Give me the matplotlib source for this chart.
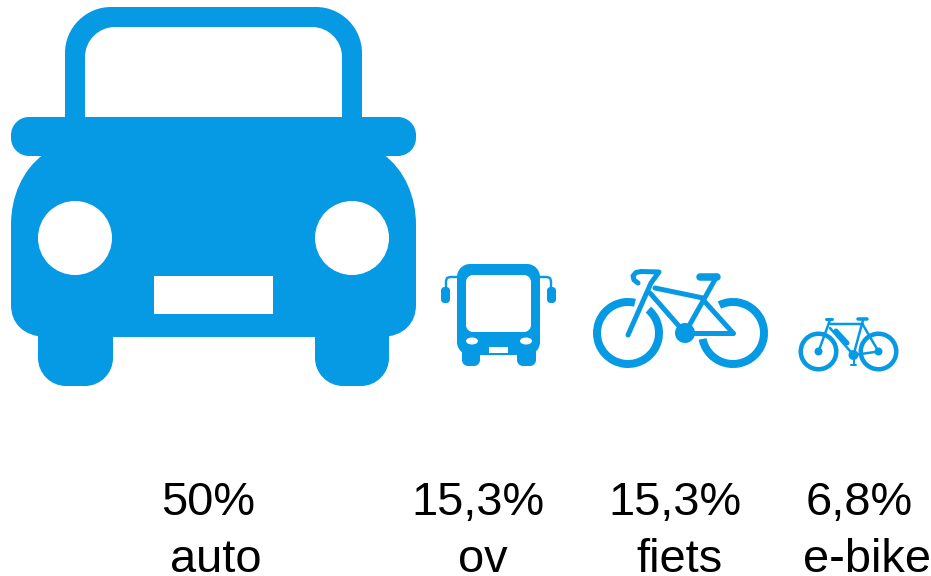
"""
plot.py -- modal split icons (auto, ov, fiets, e-bike)
"""
import matplotlib
matplotlib.use("Agg")
import matplotlib.pyplot as plt
from matplotlib.patches import Circle, Ellipse, PathPatch, Rectangle, Wedge
from matplotlib.path import Path

modes = ["auto", "ov", "fiets", "e-bike"]
shares = [50, 15.3, 15.3, 6.8]

BLUE = "#0699e4"
PX = 72 / 100  # one pixel in points at dpi 100
K = 0.45  # bezier handle for a round corner

share_x = [161, 411, 608, 806]
mode_x = [170, 458, 636, 803]

plt.rcParams["font.family"] = ["Liberation Sans", "DejaVu Sans"]

fig = plt.figure(figsize=(9.31, 5.76), dpi=100)
ax = fig.add_axes([0, 0, 1, 1])
ax.set_xlim(0, 931)
ax.set_ylim(576, 0)
ax.axis("off")


def rbox(x0, y0, x1, y1, r, color=BLUE, z=2):
    c = r * K
    verts = [(x0 + r, y0), (x1 - r, y0),
             (x1 - c, y0), (x1, y0 + c), (x1, y0 + r), (x1, y1 - r),
             (x1, y1 - c), (x1 - c, y1), (x1 - r, y1), (x0 + r, y1),
             (x0 + c, y1), (x0, y1 - c), (x0, y1 - r), (x0, y0 + r),
             (x0, y0 + c), (x0 + c, y0), (x0 + r, y0), (x0 + r, y0)]
    codes = [Path.MOVETO, Path.LINETO]
    for _ in range(3):
        codes += [Path.CURVE4] * 3 + [Path.LINETO]
    codes += [Path.CURVE4] * 3 + [Path.CLOSEPOLY]
    ax.add_patch(PathPatch(Path(verts, codes), fc=color, ec="none", zorder=z))


def stroke(pts, width, color=BLUE, z=3):
    xs, ys = zip(*pts)
    ax.plot(xs, ys, color=color, lw=width * PX, solid_capstyle="round",
            solid_joinstyle="round", zorder=z)


def ring(cx, cy, r, width, gap=None):
    # y axis is inverted, so angles run clockwise on screen
    if gap is None:
        ax.add_patch(Wedge((cx, cy), r, 0, 360, width=width, fc=BLUE, ec="none", zorder=2))
    else:
        ax.add_patch(Wedge((cx, cy), r, -gap[0], -gap[1] + 360, width=width,
                           fc=BLUE, ec="none", zorder=2))


def draw_car():
    rbox(65, 7, 362, 200, 46)
    rbox(85, 27, 342, 170, 30, "white", 3)
    rbox(11, 117, 416, 156, 18, BLUE, 4)
    verts = [(44, 154), (22, 170), (11, 197), (11, 225), (11, 305), (11, 322), (22, 337), (48, 337),
             (380, 337), (405, 337), (416, 322), (416, 305), (416, 225), (416, 197), (405, 170), (383, 154),
             (44, 154)]
    codes = [Path.MOVETO, Path.CURVE4, Path.CURVE4, Path.CURVE4, Path.LINETO,
             Path.CURVE4, Path.CURVE4, Path.CURVE4, Path.LINETO,
             Path.CURVE4, Path.CURVE4, Path.CURVE4, Path.LINETO,
             Path.CURVE4, Path.CURVE4, Path.CURVE4, Path.CLOSEPOLY]
    ax.add_patch(PathPatch(Path(verts, codes), fc=BLUE, ec="none", zorder=4))
    # window sill, slightly bowed at the corners
    sill = [(85, 136), (110, 134), (317, 134), (342, 136), (342, 165), (85, 165), (85, 136)]
    sill_codes = [Path.MOVETO, Path.LINETO, Path.LINETO, Path.LINETO, Path.LINETO, Path.LINETO, Path.CLOSEPOLY]
    ax.add_patch(PathPatch(Path(sill, sill_codes), fc=BLUE, ec="none", zorder=4))
    rbox(38, 300, 113, 386, 28)
    rbox(315, 300, 389, 386, 28)
    ax.add_patch(Circle((75, 238), 37, fc="white", ec="none", zorder=5))
    ax.add_patch(Circle((352, 238), 37, fc="white", ec="none", zorder=5))
    ax.add_patch(Rectangle((154, 276), 119, 38, fc="white", ec="none", zorder=5))


def draw_bus():
    rbox(457, 264, 540, 355, 13)
    rbox(466, 275, 531, 332, 7, "white", 3)
    ax.add_patch(Ellipse((472, 341), 12, 7, fc="white", ec="none", zorder=3))
    ax.add_patch(Ellipse((526, 341), 12, 7, fc="white", ec="none", zorder=3))
    ax.add_patch(Rectangle((489, 347), 19, 6, fc="white", ec="none", zorder=3))
    rbox(462, 345, 480, 366, 6)
    rbox(517, 345, 536, 366, 6)
    rbox(441, 287, 450, 303, 3.5)
    rbox(547, 287, 556, 303, 3.5)
    stroke([(446, 288), (446, 281), (447, 278), (450, 277), (458, 277)], 2.4)
    stroke([(551, 288), (551, 281), (550, 278), (547, 277), (539, 277)], 2.4)


def draw_bike():
    ring(628, 333, 35, 8, gap=(49, 77))
    ring(733, 333, 35, 8, gap=(116, 191))
    ax.add_patch(Circle((685, 333), 10, fc=BLUE, ec="none", zorder=3))
    stroke([(628, 335), (651, 283), (659, 272), (641, 271.5), (636, 272.5), (633, 276), (634, 280), (638, 283)], 5)
    stroke([(655, 288), (703, 298)], 5)
    stroke([(650, 293), (685, 333)], 5)
    stroke([(685, 333), (717, 276)], 5)
    stroke([(700, 276.5), (717, 276.5)], 7.5)
    stroke([(705, 302), (733, 333)], 5)
    stroke([(685, 333), (733, 333)], 5)


def draw_ebike():
    ring(818.5, 351.5, 20, 4.5)
    ring(878.5, 351.5, 20, 4.5)
    ax.add_patch(Circle((818.5, 351.5), 4, fc=BLUE, ec="none", zorder=3))
    ax.add_patch(Circle((878.5, 351.5), 4, fc=BLUE, ec="none", zorder=3))
    ax.add_patch(Circle((853.5, 355), 5, fc=BLUE, ec="none", zorder=3))
    stroke([(818.5, 351.5), (830, 320)], 2.5)
    stroke([(826, 318.5), (832, 318.5)], 3)
    stroke([(830, 323.5), (863, 323.5)], 2.5)
    stroke([(830, 328), (853.5, 355)], 2.5)
    stroke([(836, 331), (847, 343)], 5)
    stroke([(853.5, 355), (863, 320)], 2.5)
    stroke([(858, 319), (867, 319)], 3.5)
    stroke([(863, 325), (878.5, 351.5)], 2.5)
    stroke([(853.5, 355), (878.5, 351.5)], 2.5)
    stroke([(853.5, 355), (853.5, 364)], 2)
    stroke([(851, 364.5), (856, 364.5)], 2)


draw_car()
draw_bus()
draw_bike()
draw_ebike()

for x, val in zip(share_x, shares):
    txt = f"{val:g}%".replace(".", ",")
    ax.text(x, 515, txt, fontsize=33.8, color="black", ha="left", va="baseline")
for x, name in zip(mode_x, modes):
    ax.text(x, 572, name, fontsize=33.8, color="black", ha="left", va="baseline")

fig.savefig("out.png", dpi=100)
